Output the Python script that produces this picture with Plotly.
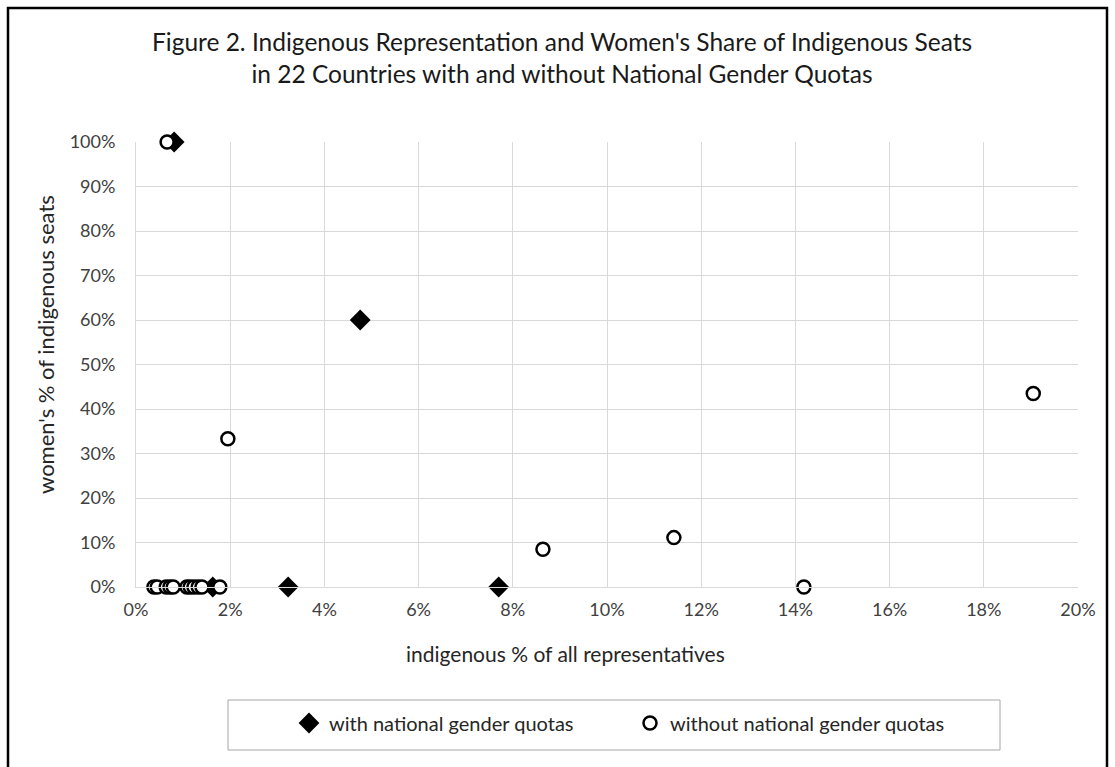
import plotly.graph_objects as go

# with national gender quotas (indigenous % of all reps, women's % of indigenous seats)
quota_x = [0.81, 4.76, 3.23, 7.70, 1.63]
quota_y = [100, 60, 0, 0, 0]

# without national gender quotas
noquota_x = [0.66, 1.95, 19.05, 8.64, 11.42, 14.18,
             0.38, 0.45, 0.64, 0.72, 0.79, 1.08, 1.15, 1.23, 1.32, 1.40, 1.78]
noquota_y = [100, 33.3, 43.5, 8.5, 11.1, 0,
             0, 0, 0, 0, 0, 0, 0, 0, 0, 0, 0]

x_ticks = [0, 2, 4, 6, 8, 10, 12, 14, 16, 18, 20]
y_ticks = [0, 10, 20, 30, 40, 50, 60, 70, 80, 90, 100]

title_text = ("Figure 2. Indigenous Representation and Women's Share of Indigenous Seats"
              "<br>in 22 Countries with and without National Gender Quotas")
x_title = "indigenous % of all representatives"
y_title = "women's % of indigenous seats"

FONT = "Lato"
W, H = 1115, 767
L, R, T, B = 136, 37, 142, 180
pw, ph = W - L - R, H - T - B

def px(x):
    return (x - L) / pw

def py(y):
    return (H - B - y) / ph

fig = go.Figure()
fig.add_trace(go.Scatter(
    x=quota_x, y=quota_y, mode="markers", name="with national gender quotas",
    cliponaxis=False,
    marker=dict(symbol="diamond", size=16, color="black", line=dict(width=0))
))
fig.add_trace(go.Scatter(
    x=noquota_x, y=noquota_y, mode="markers", name="without national gender quotas",
    cliponaxis=False,
    marker=dict(symbol="circle", size=13, color="white", line=dict(width=2.5, color="black"))
))

fig.update_layout(
    width=W, height=H,
    margin=dict(l=L, r=R, t=T, b=B, autoexpand=False),
    paper_bgcolor="white", plot_bgcolor="white",
    font=dict(family=FONT, color="#262626"),
    title=dict(
        text=title_text,
        x=562 / W, xanchor="center", y=1 - 51 / H, yanchor="middle",
        font=dict(family=FONT, size=24.5, color="#1a1a1a"),
    ),
    xaxis=dict(
        range=[0, 20], tickvals=x_ticks, ticktext=[f"{v}%" for v in x_ticks],
        showgrid=True, gridcolor="#d9d9d9", gridwidth=1, zeroline=False,
        showline=True, linecolor="#d9d9d9", ticks="", tickfont=dict(size=18, color="#404040"),
        ticklabelstandoff=6, automargin=False,
    ),
    yaxis=dict(
        range=[0, 100], tickvals=y_ticks, ticktext=[f"{v}%" for v in y_ticks],
        showgrid=True, gridcolor="#d9d9d9", gridwidth=1, zeroline=False,
        showline=True, linecolor="#d9d9d9", ticks="", tickfont=dict(size=18, color="#404040"),
        ticklabelstandoff=16, automargin=False,
    ),
    annotations=[
        dict(text=x_title, xref="paper", yref="paper", x=px(565), y=py(653),
             xanchor="center", yanchor="middle", showarrow=False,
             font=dict(size=21, color="#262626")),
        dict(text=y_title, xref="paper", yref="paper", x=px(45), y=py(345),
             xanchor="center", yanchor="middle", showarrow=False, textangle=-90,
             font=dict(size=22, color="#262626")),
    ],
    showlegend=True,
    legend=dict(
        orientation="h", x=px(289), xanchor="left", y=py(723), yanchor="middle",
        font=dict(size=20, color="#262626"), entrywidth=296, entrywidthmode="pixels",
        bgcolor="rgba(0,0,0,0)", itemclick=False,
    ),
    shapes=[
        dict(type="rect", xref="paper", yref="paper",
             x0=px(8), x1=px(1107), y0=py(775), y1=py(8),
             line=dict(color="black", width=2.5), fillcolor="rgba(0,0,0,0)", layer="below"),
        dict(type="rect", xref="paper", yref="paper",
             x0=px(228), x1=px(1000), y0=py(750), y1=py(700),
             line=dict(color="#a6a6a6", width=1), fillcolor="rgba(0,0,0,0)", layer="below"),
    ],
)

fig.write_html("out.html", config={"displayModeBar": False},
               post_script="document.body.style.margin='0';")
